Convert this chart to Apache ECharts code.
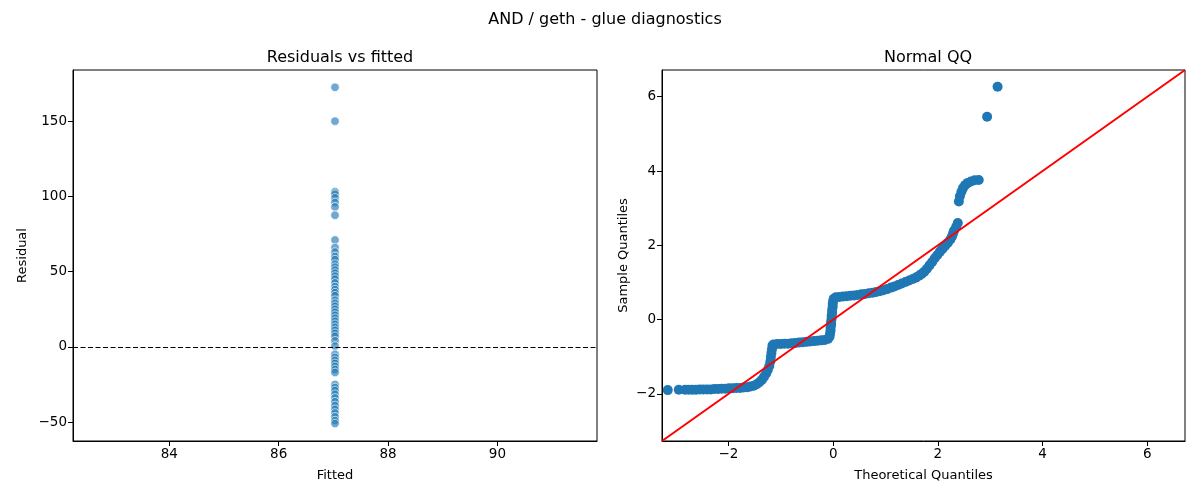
<!DOCTYPE html>
<html>
<head>
<meta charset="utf-8">
<title>AND / geth - glue diagnostics</title>
<script src="https://cdn.jsdelivr.net/npm/echarts@6/dist/echarts.min.js"></script>
<style>
  html, body { margin: 0; padding: 0; background: #fff; }
  #main { width: 1200px; height: 500px; }
</style>
</head>
<body>
<div id="main"></div>
<script>
// left panel: every point sits on the same fitted value
var fittedValue = 87.03;
var residuals = [172.5, 150, 103, 101.5, 99, 96, 93, 87.5, 71, 66, 63, 60, 58, 55, 53, 51, 49, 47, 45,
    42.5, 40, 38, 36, 34, 31, 29, 27, 25, 23, 21, 19, 17, 15, 13, 11, 9, 7, 4, 0.5,
    -5, -7, -9, -11, -13, -15, -17, -25, -27, -29, -31.5, -34, -36.5, -39, -41.5, -44, -46.5, -49, -51];
var fittedTicks = [84, 86, 88, 90];
var residualTicks = [-50, 0, 50, 100, 150];

// right panel: QQ points
var qqTheo = [-3.16, -2.95, -2.83, -2.76, -2.69, -2.62, -2.55, -2.48, -2.41, -2.34, -2.27, -2.20, -2.13, -2.06,
    -1.99, -1.92, -1.85, -1.78, -1.71, -1.64, -1.58, -1.52, -1.46, -1.41, -1.36, -1.32, -1.28, -1.25, -1.22,
    -1.20, -1.19, -1.18, -1.17, -1.16,
    -1.14, -1.07, -1.00, -0.93, -0.86, -0.79, -0.72, -0.65, -0.58, -0.51, -0.44, -0.37, -0.30, -0.23, -0.16, -0.10,
    -0.07, -0.06, -0.05, -0.05, -0.04, -0.04, -0.03, -0.03, -0.02, -0.02, -0.01, -0.01, 0.00, 0.01,
    0.05, 0.12, 0.19, 0.26, 0.33, 0.40, 0.47, 0.54, 0.61, 0.68, 0.75, 0.82, 0.89, 0.96, 1.03, 1.10, 1.17,
    1.24, 1.31, 1.38, 1.45, 1.52, 1.58, 1.64, 1.69, 1.74, 1.79, 1.84, 1.89, 1.94, 1.99, 2.04, 2.09, 2.14,
    2.19, 2.24, 2.27, 2.29, 2.31, 2.35, 2.38,
    2.40, 2.42, 2.45, 2.48, 2.52, 2.57, 2.63, 2.70, 2.78, 2.94, 3.14];
var qqSample = [-1.90, -1.89, -1.89, -1.89, -1.89, -1.89, -1.88, -1.88, -1.88, -1.88, -1.87, -1.87, -1.86, -1.86,
    -1.85, -1.85, -1.84, -1.84, -1.83, -1.82, -1.80, -1.78, -1.74, -1.69, -1.62, -1.54, -1.45, -1.36, -1.25,
    -1.13, -1.01, -0.90, -0.80, -0.70,
    -0.67, -0.66, -0.66, -0.65, -0.65, -0.64, -0.63, -0.62, -0.61, -0.60, -0.59, -0.58, -0.57, -0.56, -0.55, -0.52,
    -0.46, -0.38, -0.30, -0.22, -0.14, -0.06, 0.02, 0.10, 0.18, 0.26, 0.34, 0.42, 0.50, 0.56,
    0.60, 0.61, 0.62, 0.63, 0.64, 0.65, 0.66, 0.68, 0.69, 0.71, 0.72, 0.74, 0.76, 0.79, 0.82, 0.86, 0.89,
    0.93, 0.97, 1.01, 1.05, 1.09, 1.13, 1.18, 1.23, 1.29, 1.37, 1.46, 1.55, 1.65, 1.74, 1.83, 1.91, 1.99,
    2.07, 2.16, 2.24, 2.32, 2.40, 2.50, 2.60,
    3.18, 3.32, 3.44, 3.54, 3.62, 3.68, 3.72, 3.75, 3.76, 5.46, 6.27];
var qqTicks = [-2, 0, 2, 4, 6];
var qqLimits = [-3.27, 6.72];

var fontName = 'DejaVu Sans';

var scatterData = [];
residuals.forEach(function (r) {
    scatterData.push([fittedValue, r]);
});
var qqData = [];
for (var i = 0; i < qqTheo.length; i++) {
    qqData.push([qqTheo[i], qqSample[i]]);
}

function valueAxis(min, max, ticks, name, gap, extra) {
    var ax = {
        type: 'value',
        min: min,
        max: max,
        name: name,
        nameLocation: 'middle',
        nameGap: gap,
        nameTextStyle: { color: '#000', fontSize: 13, fontFamily: fontName },
        splitLine: { show: false },
        axisLine: { show: true, onZero: false, lineStyle: { color: '#000', width: 1 } },
        axisTick: { show: true, inside: false, length: 5, customValues: ticks, lineStyle: { color: '#000' } },
        axisLabel: { show: true, color: '#000', fontSize: 13.5, fontFamily: fontName, margin: 6,
            customValues: ticks,
            formatter: function (v) { return String(v).replace('-', '\u2212'); } }
    };
    for (var k in extra) { ax[k] = extra[k]; }
    return ax;
}

var myChart = echarts.init(document.getElementById('main'));

var option = {
    backgroundColor: '#fff',
    animation: false,
    textStyle: { fontFamily: fontName },
    title: [
        { text: 'AND / geth - glue diagnostics', left: 600, top: 7, textAlign: 'center',
            textStyle: { fontSize: 16, fontWeight: 'normal', color: '#000', fontFamily: fontName } },
        { text: 'Residuals vs fitted', left: 335, top: 45, textAlign: 'center',
            textStyle: { fontSize: 16, fontWeight: 'normal', color: '#000', fontFamily: fontName } },
        { text: 'Normal QQ', left: 923, top: 45, textAlign: 'center',
            textStyle: { fontSize: 16, fontWeight: 'normal', color: '#000', fontFamily: fontName } }
    ],
    grid: [
        { left: 73, right: 603, top: 70, bottom: 59, show: true, borderColor: '#000', borderWidth: 1 },
        { left: 662, right: 15, top: 70, bottom: 59, show: true, borderColor: '#000', borderWidth: 1 }
    ],
    xAxis: [
        valueAxis(82.24, 91.82, fittedTicks, 'Fitted', 28, { gridIndex: 0 }),
        valueAxis(qqLimits[0], qqLimits[1], qqTicks, 'Theoretical Quantiles', 28, { gridIndex: 1 })
    ],
    yAxis: [
        valueAxis(-62.6, 184, residualTicks, 'Residual', 44, { gridIndex: 0 }),
        valueAxis(qqLimits[0], qqLimits[1], qqTicks, 'Sample Quantiles', 32, { gridIndex: 1 })
    ],
    series: [
        {
            name: 'residuals',
            type: 'scatter',
            xAxisIndex: 0,
            yAxisIndex: 0,
            symbolSize: 8.5,
            itemStyle: { color: 'rgba(31,119,180,0.8)', borderColor: '#fff', borderWidth: 0.8 },
            data: scatterData,
            markLine: {
                silent: true,
                symbol: 'none',
                label: { show: false },
                lineStyle: { color: '#000', type: [5, 2.5], width: 1 },
                data: [{ yAxis: 0 }]
            },
            z: 3
        },
        {
            name: 'qq',
            type: 'scatter',
            xAxisIndex: 1,
            yAxisIndex: 1,
            symbolSize: 10,
            itemStyle: { color: '#1f77b4', opacity: 1 },
            data: qqData,
            z: 2
        },
        {
            name: '45 line',
            type: 'line',
            xAxisIndex: 1,
            yAxisIndex: 1,
            symbol: 'none',
            lineStyle: { color: '#ff0000', width: 2 },
            data: [[qqLimits[0], qqLimits[0]], [qqLimits[1], qqLimits[1]]],
            z: 4
        }
    ]
};
myChart.setOption(option);
window.onresize = myChart.resize;
</script>
</body>
</html>
